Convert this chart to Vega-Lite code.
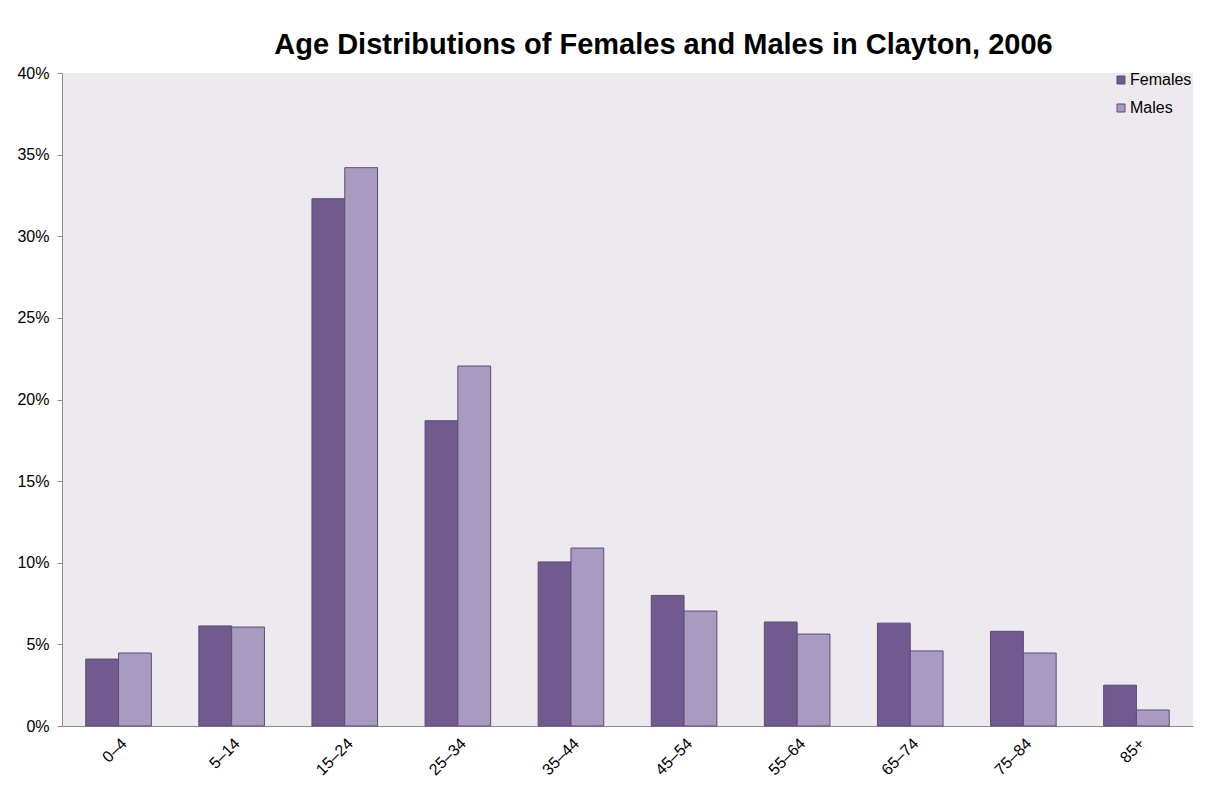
{
  "$schema": "https://vega.github.io/schema/vega-lite/v6.json",
  "width": 1131,
  "height": 653,
  "autosize": {"type": "none"},
  "padding": {"left": 62, "top": 73, "right": 15, "bottom": 61},
  "background": "#ffffff",
  "title": {
    "text": "Age Distributions of Females and Males in Clayton, 2006",
    "font": "Liberation Sans",
    "fontSize": 29,
    "fontWeight": "bold",
    "color": "#000000",
    "anchor": "middle",
    "frame": "group",
    "dx": 36,
    "offset": 5
  },
  "config": {
    "view": {"fill": "#ECE9EF", "stroke": null},
    "axis": {"labelFont": "Liberation Sans", "labelFontSize": 16, "labelColor": "#000000", "domainColor": "#8C8C8C", "tickColor": "#8C8C8C", "grid": false, "title": null}
  },
  "data": {
    "values": [
      {"age": "0–4", "sex": "Females", "pct": 4.1},
      {"age": "0–4", "sex": "Males", "pct": 4.47},
      {"age": "5–14", "sex": "Females", "pct": 6.13},
      {"age": "5–14", "sex": "Males", "pct": 6.06},
      {"age": "15–24", "sex": "Females", "pct": 32.3},
      {"age": "15–24", "sex": "Males", "pct": 34.2},
      {"age": "25–34", "sex": "Females", "pct": 18.7},
      {"age": "25–34", "sex": "Males", "pct": 22.05},
      {"age": "35–44", "sex": "Females", "pct": 10.05},
      {"age": "35–44", "sex": "Males", "pct": 10.9},
      {"age": "45–54", "sex": "Females", "pct": 8.0},
      {"age": "45–54", "sex": "Males", "pct": 7.04},
      {"age": "55–64", "sex": "Females", "pct": 6.37},
      {"age": "55–64", "sex": "Males", "pct": 5.63},
      {"age": "65–74", "sex": "Females", "pct": 6.3},
      {"age": "65–74", "sex": "Males", "pct": 4.6},
      {"age": "75–84", "sex": "Females", "pct": 5.8},
      {"age": "75–84", "sex": "Males", "pct": 4.47},
      {"age": "85+", "sex": "Females", "pct": 2.5},
      {"age": "85+", "sex": "Males", "pct": 0.98}
    ]
  },
  "mark": {"type": "bar", "stroke": "#5E4A7C", "strokeWidth": 1},
  "encoding": {
    "x": {
      "field": "age",
      "type": "nominal",
      "sort": null,
      "scale": {"paddingInner": 0.42, "paddingOuter": 0.21},
      "axis": {"labelAngle": -45, "ticks": false, "labelPadding": 9}
    },
    "xOffset": {"field": "sex", "type": "nominal", "sort": ["Females", "Males"]},
    "y": {
      "field": "pct",
      "type": "quantitative",
      "scale": {"domain": [0, 40], "nice": false},
      "axis": {"values": [0, 5, 10, 15, 20, 25, 30, 35, 40], "labelExpr": "datum.value + '%'", "tickSize": 5, "labelPadding": 8}
    },
    "color": {
      "field": "sex",
      "type": "nominal",
      "scale": {"domain": ["Females", "Males"], "range": ["#705A8E", "#A99BBF"]},
      "legend": {
        "title": null,
        "orient": "none",
        "legendX": 1051,
        "legendY": -1,
        "symbolType": "square",
        "symbolSize": 64,
        "symbolStrokeColor": "#5E4A7C",
        "symbolStrokeWidth": 1,
        "labelFont": "Liberation Sans",
        "labelFontSize": 16,
        "labelColor": "#000000",
        "labelOffset": 1,
        "rowPadding": 12
      }
    }
  }
}
